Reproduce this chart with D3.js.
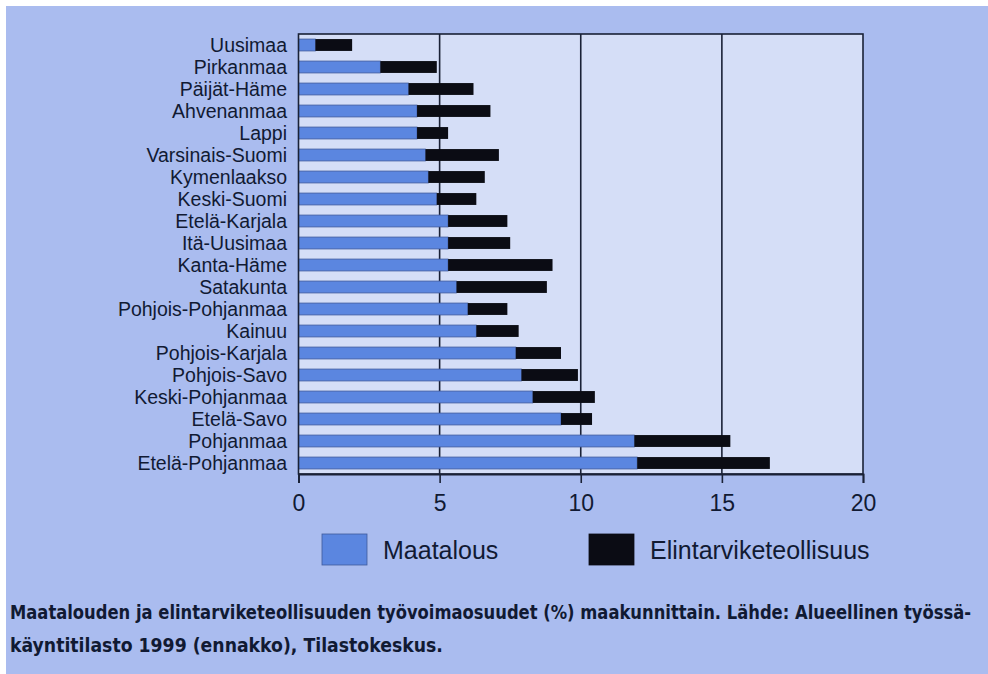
<!DOCTYPE html>
<html>
<head>
<meta charset="utf-8">
<title>Maatalouden ja elintarviketeollisuuden työvoimaosuudet</title>
<script src="https://cdn.jsdelivr.net/npm/d3@7"></script>
<style>
    body { margin: 0; background: #ffffff; }
    svg { display: block; }
</style>
</head>
<body>
<script>
// regions, top to bottom
var regions = ["Uusimaa", "Pirkanmaa", "Päijät-Häme", "Ahvenanmaa", "Lappi",
    "Varsinais-Suomi", "Kymenlaakso", "Keski-Suomi", "Etelä-Karjala", "Itä-Uusimaa",
    "Kanta-Häme", "Satakunta", "Pohjois-Pohjanmaa", "Kainuu", "Pohjois-Karjala",
    "Pohjois-Savo", "Keski-Pohjanmaa", "Etelä-Savo", "Pohjanmaa", "Etelä-Pohjanmaa"];

// share of workforce (%)
var maatalous = [0.6, 2.9, 3.9, 4.2, 4.2, 4.5, 4.6, 4.9, 5.3, 5.3,
    5.3, 5.6, 6.0, 6.3, 7.7, 7.9, 8.3, 9.3, 11.9, 12.0];
var elintarvike = [1.3, 2.0, 2.3, 2.6, 1.1, 2.6, 2.0, 1.4, 2.1, 2.2,
    3.7, 3.2, 1.4, 1.5, 1.6, 2.0, 2.2, 1.1, 3.4, 4.7];

var xTicks = [0, 5, 10, 15, 20];
var seriesNames = ["Maatalous", "Elintarviketeollisuus"];
var seriesColors = ["#5b86e0", "#0b0c14"];

var captionLines = [
    "Maatalouden ja elintarviketeollisuuden työvoimaosuudet (%) maakunnittain. Lähde: Alueellinen työssä-",
    "käyntitilasto 1999 (ennakko), Tilastokeskus."
];

var w = 988, h = 674;
var textColor = "#111a33";
var lineColor = "#1a2136";

var svg = d3.select("body").append("svg")
    .attr("width", w)
    .attr("height", h);

// page background (white edge at top and left like the scan)
svg.append("rect")
    .attr("x", 6)
    .attr("y", 6)
    .attr("width", w - 6)
    .attr("height", h - 6)
    .style("fill", "#aabcef");

var plot = { left: 298.5, right: 863, top: 34, bottom: 474 };

var x = d3.scaleLinear()
    .domain([0, 20])
    .range([plot.left, plot.right]);

var y = d3.scaleBand()
    .domain(regions)
    .range([plot.top, plot.bottom])
    .paddingInner(0.46)
    .paddingOuter(0.23);

// plot area
svg.append("rect")
    .attr("x", plot.left)
    .attr("y", plot.top)
    .attr("width", plot.right - plot.left)
    .attr("height", plot.bottom - plot.top)
    .style("fill", "#d5def7");

// gridlines
svg.append("g")
    .selectAll("line")
    .data(xTicks.slice(1, 4))
    .enter()
    .append("line")
    .attr("x1", function(d) { return x(d); })
    .attr("x2", function(d) { return x(d); })
    .attr("y1", plot.top)
    .attr("y2", plot.bottom)
    .style("stroke", lineColor)
    .style("stroke-width", 1.6);

// stacked bars
var rows = regions.map(function(r, i) {
    return { region: r, a: maatalous[i], b: elintarvike[i] };
});

var bars = svg.append("g")
    .selectAll("g")
    .data(rows)
    .enter()
    .append("g");

bars.append("rect")
    .attr("x", x(0))
    .attr("y", function(d) { return y(d.region); })
    .attr("width", function(d) { return x(d.a) - x(0); })
    .attr("height", y.bandwidth())
    .style("fill", seriesColors[0])
    .style("stroke", "#3f5a9c")
    .style("stroke-width", 0.8);

bars.append("rect")
    .attr("x", function(d) { return x(d.a); })
    .attr("y", function(d) { return y(d.region); })
    .attr("width", function(d) { return x(d.a + d.b) - x(d.a); })
    .attr("height", y.bandwidth())
    .style("fill", seriesColors[1]);

// frame
svg.append("rect")
    .attr("x", plot.left)
    .attr("y", plot.top)
    .attr("width", plot.right - plot.left)
    .attr("height", plot.bottom - plot.top)
    .style("fill", "none")
    .style("stroke", lineColor)
    .style("stroke-width", 1.6);

// x axis
var xAxis = svg.append("g")
    .attr("transform", "translate(0," + plot.bottom + ")")
    .call(d3.axisBottom(x).tickValues(xTicks).tickSize(9).tickPadding(12));

xAxis.select(".domain")
    .style("stroke", lineColor)
    .style("stroke-width", 1.8);
xAxis.selectAll(".tick line")
    .style("stroke", lineColor)
    .style("stroke-width", 1.6);
xAxis.selectAll(".tick text")
    .attr("font-family", "'Liberation Sans', Arial, sans-serif")
    .attr("font-size", "23px")
    .attr("fill", textColor);

// region labels
svg.append("g")
    .selectAll("text")
    .data(regions)
    .enter()
    .append("text")
    .text(function(d) { return d; })
    .attr("x", 287)
    .attr("y", function(d) { return y(d) + y.bandwidth() / 2 + 7; })
    .attr("text-anchor", "end")
    .attr("font-family", "'Liberation Sans', Arial, sans-serif")
    .attr("font-size", "19.5px")
    .attr("fill", textColor);

// legend
var legendX = [322, 589];
var legend = svg.append("g")
    .selectAll("g")
    .data(seriesNames)
    .enter()
    .append("g");

legend.append("rect")
    .attr("x", function(d, i) { return legendX[i]; })
    .attr("y", 534)
    .attr("width", 45)
    .attr("height", 31)
    .style("fill", function(d, i) { return seriesColors[i]; })
    .style("stroke", function(d, i) { return i === 0 ? "#3f5a9c" : seriesColors[i]; })
    .style("stroke-width", 0.8);

legend.append("text")
    .text(function(d) { return d; })
    .attr("x", function(d, i) { return legendX[i] + 61; })
    .attr("y", 559)
    .attr("font-family", "'Liberation Sans', Arial, sans-serif")
    .attr("font-size", "25px")
    .attr("fill", textColor);

// caption - condensed bold, squeezed to the printed line widths
var captionLen = [962, 433];
var captions = svg.append("g")
    .selectAll("text")
    .data(captionLines)
    .enter()
    .append("text")
    .text(function(d) { return d; })
    .attr("x", 0)
    .attr("y", 0)
    .attr("font-family", "'Liberation Sans Narrow', 'DejaVu Sans Condensed', 'Liberation Sans', Arial, sans-serif")
    .attr("font-weight", "bold")
    .attr("font-size", "20px")
    .attr("fill", textColor);

captions.each(function(d, i) {
    var len = this.getComputedTextLength();
    var sx = captionLen[i] / len;
    d3.select(this).attr("transform",
        "translate(10," + (619 + i * 33) + ") scale(" + sx + ",1)");
});
</script>
</body>
</html>
